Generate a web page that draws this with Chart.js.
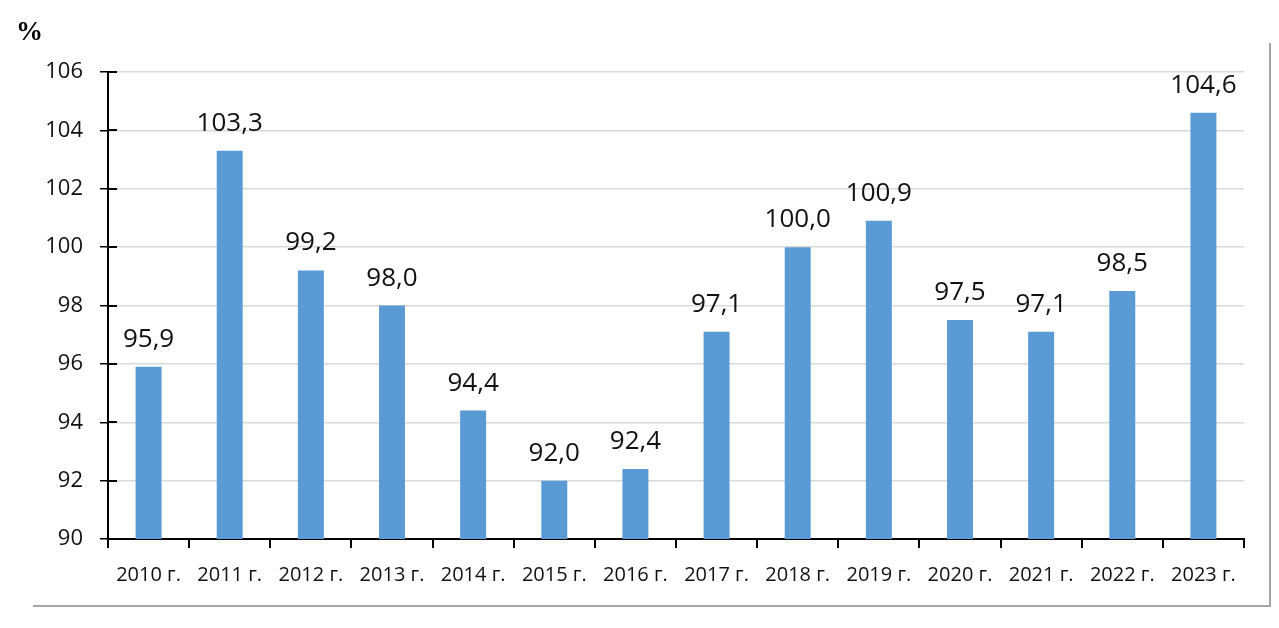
<!DOCTYPE html>
<html lang="ru">
<head>
    <meta charset="UTF-8">
    <title>Индекс, %</title>
    <script src="https://cdn.jsdelivr.net/npm/chart.js"></script>
    <style>
        html, body { margin: 0; padding: 0; background: #fff; }
        .wrap { position: relative; width: 1279px; height: 628px; }
    </style>
</head>
<body>
    <div class="wrap">
        <canvas id="grafico"></canvas>
    </div>
</body>
</html>
<script>
    // данные
    const anos = ['2010 г.', '2011 г.', '2012 г.', '2013 г.', '2014 г.', '2015 г.', '2016 г.',
        '2017 г.', '2018 г.', '2019 г.', '2020 г.', '2021 г.', '2022 г.', '2023 г.'];
    const valores = [95.9, 103.3, 99.2, 98.0, 94.4, 92.0, 92.4, 97.1, 100.0, 100.9, 97.5, 97.1, 98.5, 104.6];
    const yTicks = [90, 92, 94, 96, 98, 100, 102, 104, 106];

    const fonte = '"Open Sans", "Noto Sans", sans-serif';

    // подписи значений над столбцами + рамка и знак %
    const extras = {
        id: 'extras',
        afterDatasetsDraw(chart) {
            const ctx = chart.ctx;
            const meta = chart.getDatasetMeta(0);
            const y = chart.scales.y;
            ctx.save();

            // засечки оси Y внутри области
            ctx.strokeStyle = '#000';
            ctx.lineWidth = 2;
            yTicks.forEach(v => {
                const py = Math.round(y.getPixelForValue(v));
                ctx.beginPath();
                ctx.moveTo(y.right, py);
                ctx.lineTo(y.right + 9, py);
                ctx.stroke();
            });

            ctx.font = '26px ' + fonte;
            ctx.fillStyle = '#111';
            ctx.textAlign = 'center';
            ctx.textBaseline = 'alphabetic';
            meta.data.forEach((bar, i) => {
                ctx.fillText(valores[i].toFixed(1).replace('.', ','), bar.x, bar.y - 20);
            });

            // рамка справа и снизу
            ctx.strokeStyle = '#a6a6a6';
            ctx.lineWidth = 2;
            ctx.beginPath();
            ctx.moveTo(1270, 43);
            ctx.lineTo(1270, 606);
            ctx.lineTo(33, 606);
            ctx.stroke();

            // %
            ctx.font = 'bold 27px "Liberation Serif", "DejaVu Serif", serif';
            ctx.fillStyle = '#000';
            ctx.textAlign = 'left';
            ctx.fillText('%', 16, 40);
            ctx.restore();
        }
    };

    new Chart(document.getElementById('grafico'), {
        type: 'bar',
        data: {
            labels: anos,
            datasets: [{
                data: valores,
                backgroundColor: '#5b9bd5',
                borderWidth: 0,
                barPercentage: 0.64,
                categoryPercentage: 0.5
            }]
        },
        options: {
            responsive: true,
            maintainAspectRatio: false,
            animation: false,
            layout: { padding: { top: 72, right: 35, bottom: 0, left: 0 } },
            plugins: {
                legend: { display: false },
                tooltip: { enabled: false }
            },
            scales: {
                x: {
                    grid: {
                        drawOnChartArea: false,
                        tickColor: '#000',
                        tickLength: 9,
                        lineWidth: 2
                    },
                    border: { color: '#000', width: 2 },
                    ticks: {
                        color: '#111',
                        font: { family: fonte, size: 20 },
                        padding: 15,
                        autoSkip: false,
                        maxRotation: 0
                    },
                    afterFit(scale) { scale.height = 89; }
                },
                y: {
                    min: 90,
                    max: 106,
                    afterBuildTicks(scale) {
                        scale.ticks = yTicks.map(v => ({ value: v }));
                    },
                    grid: {
                        color: '#d9d9d9',
                        tickColor: '#000',
                        tickLength: 8,
                        lineWidth: 1.5
                    },
                    border: { color: '#000', width: 2 },
                    ticks: {
                        color: '#111',
                        font: { family: fonte, size: 22 },
                        padding: 17
                    },
                    afterFit(scale) { scale.width = 108; }
                }
            }
        },
        plugins: [extras]
    });
</script>
